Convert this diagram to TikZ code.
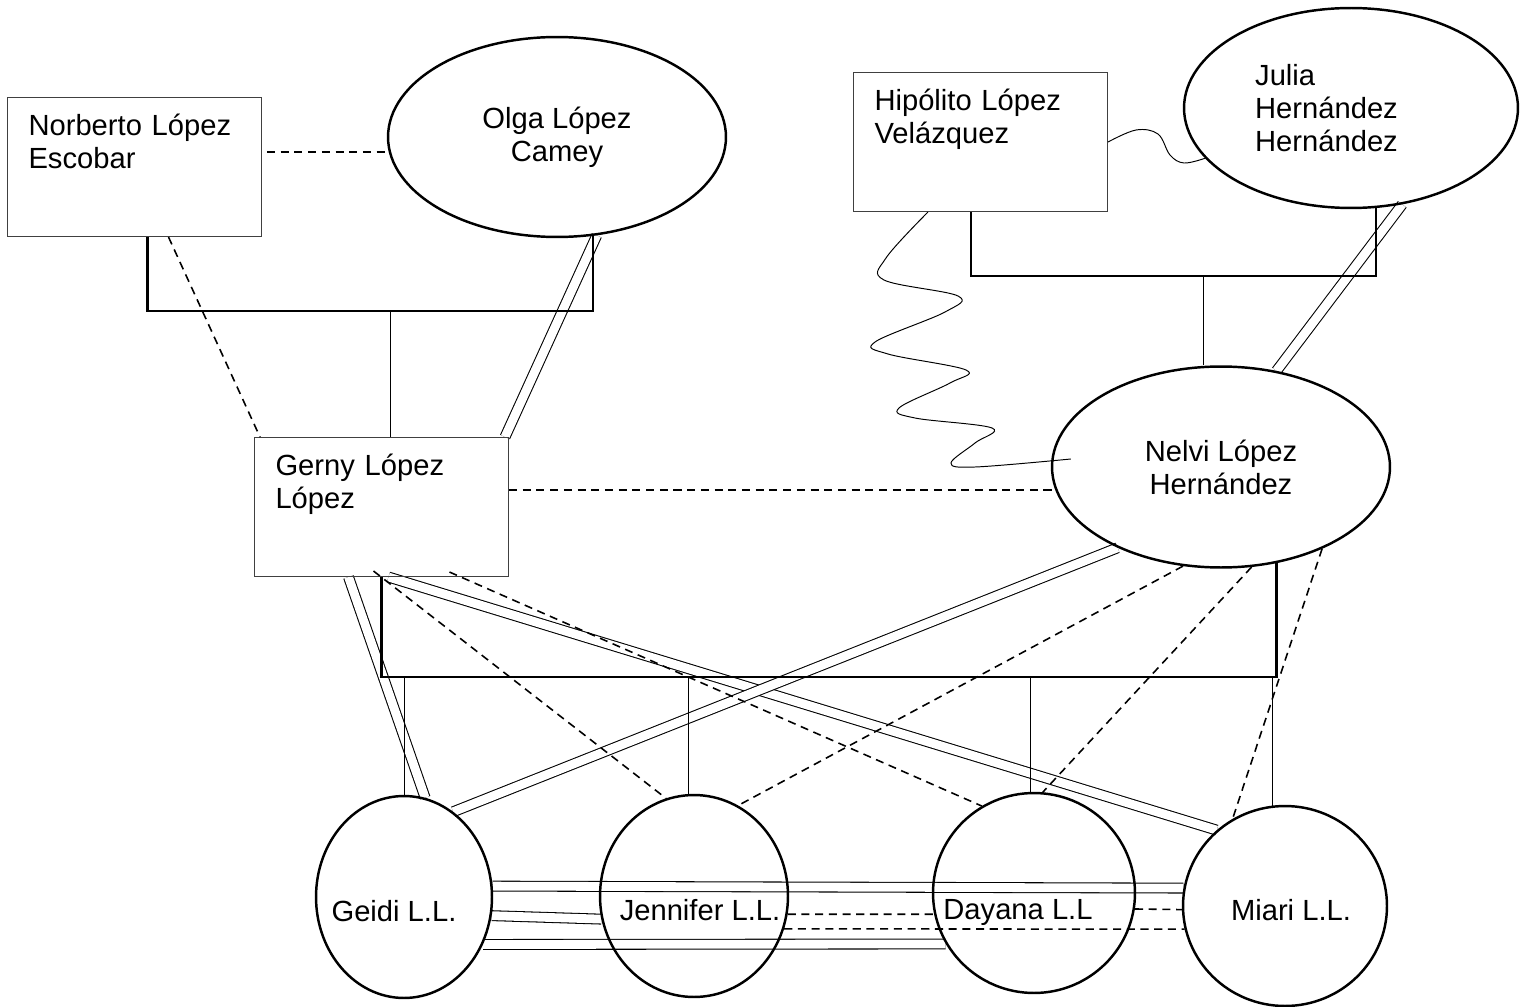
\documentclass[tikz,border=0pt]{standalone}
\usepackage{fontspec}
\setmainfont{Liberation Sans}
\usetikzlibrary{shapes.geometric, positioning, calc}
\pgfdeclarelayer{back}
\pgfsetlayers{back,main}

\begin{document}
\begin{tikzpicture}[x=0.02cm, y=-0.02cm,
    font=\fontsize{16.6pt}{18.7pt}\selectfont,
    person box/.style={draw=black!75, line width=0.6pt, rectangle, anchor=north west, align=left, text width=4.24cm, inner xsep=0.42cm, inner ysep=0pt, text height=0.76cm, text depth=2.02cm},
    big oval/.style={draw, ellipse, line width=1.4pt, inner sep=0pt, minimum width=6.76cm, minimum height=4cm, align=center},
    kid oval/.style={draw, ellipse, line width=1.4pt, inner sep=0pt},
    tie/.style={line width=0.55pt},
    union/.style={line width=1.2pt},
    dashlink/.style={line width=0.9pt, dash pattern=on 4.6pt off 3.2pt},
    twinlink/.style={line width=0.6pt, double=white, double distance=5pt}]
    \useasboundingbox (0,0) rectangle (1532,1007);

    \node[person box] (norberto) at (7,97) {Norberto López\\Escobar};
    \node[big oval] (olga) at (557,137) {Olga López\\Camey};
    \node[person box] (hipolito) at (853,72) {Hipólito López\\Velázquez};
    \node[big oval, minimum width=6.68cm, label={[align=left, xshift=-0.49cm]center:{Julia\\Hernández\\Hernández}}] (julia) at (1351,108) {};
    \node[person box] (gerny) at (254,437) {Gerny López\\López};
    \node[big oval, minimum height=4.02cm] (nelvi) at (1221,467) {Nelvi López\\Hernández};
    \node[kid oval, minimum width=3.52cm, minimum height=4.04cm, label={[text depth=0pt, xshift=-0.2cm, yshift=-0.27cm]center:Geidi L.L.}] (geidi) at (404,897) {};
    \node[kid oval, minimum width=3.76cm, minimum height=4.04cm, label={[text depth=0pt, xshift=0.12cm, yshift=-0.27cm]center:Jennifer L.L.}] (jennifer) at (694,896) {};
    \node[kid oval, minimum width=4.04cm, minimum height=4cm, label={[text depth=0pt, xshift=-0.32cm, yshift=-0.33cm]center:Dayana L.L}] (dayana) at (1034,893) {};
    \node[kid oval, minimum width=4.08cm, minimum height=4cm, label={[text depth=0pt, xshift=0.12cm, yshift=-0.07cm]center:Miari L.L.}] (miari) at (1285,906) {};

    \coordinate (topbar) at (390,311);
    \coordinate (rightbar) at (1203,276);
    \coordinate (lowbar) at (830,677);
    \coordinate (wavetop) at ([xshift=1.5cm]hipolito.south west);
    \coordinate (waveend) at ([shift={(0.4cm,0.16cm)}]nelvi.west);

    \draw[dashlink, shorten <=0.1cm] (norberto.east |- olga.185) -- (olga.185);
    \draw[union] ([xshift=0.26cm]norberto.south) |- (topbar) -| (olga.290);
    \draw[tie] (topbar) -- (topbar |- gerny.north);
    \draw[dashlink] ([xshift=0.68cm]norberto.south) -- ([xshift=0.12cm]gerny.north west);

    \draw[tie] plot[smooth, tension=0.6] coordinates {(hipolito.east) (1136,130) (1158,134) (1170,155) (1184,163) (julia.199)};
    \draw[union] ([xshift=-0.19cm]hipolito.south) |- (rightbar) -| (julia.284);
    \draw[tie] (rightbar) -- (rightbar |- nelvi.north);
    \draw[tie] plot[smooth, tension=0.6] coordinates {(wavetop) (886,258) (884,280) (958,296) (945,312) (875,342) (888,354) (966,370) (950,383) (899,408) (915,418) (992,428) (975,443) (951,463) (975,467) (waveend)};

    \draw[dashlink] (gerny.east |- nelvi.188) -- (nelvi.188);
    \draw[union] (gerny.south) |- (lowbar) -| (nelvi.300);
    \draw[tie] (lowbar -| geidi.north) -- (geidi.north);
    \draw[tie] (lowbar -| jennifer.93) -- (jennifer.93);
    \draw[tie] (lowbar -| dayana.92) -- (dayana.92);
    \draw[tie] (lowbar -| miari.97) -- (miari.97);

    \draw[dashlink] ([shift={(-0.16cm,0.12cm)}]gerny.south) -- (jennifer.106);
    \draw[dashlink] ([shift={(1.36cm,0.1cm)}]gerny.south) -- (dayana.121);
    \draw[dashlink] (nelvi.249) -- (jennifer.64);
    \draw[dashlink] (nelvi.287) -- (dayana.85);
    \draw[dashlink] (nelvi.321) -- (miari.121);
    \draw[dashlink] (jennifer.349) -- (dayana.192);
    \draw[dashlink] (jennifer.340) -- (miari.193);
    \draw[dashlink] (dayana.351) -- (miari.182);

    \begin{pgfonlayer}{back}
        \draw[twinlink] (olga.292) -- ([xshift=-0.08cm]gerny.north east);
        \draw[twinlink] (julia.298) -- (nelvi.60);
        \draw[twinlink] ([xshift=-0.66cm]gerny.south) -- (geidi.78);
        \draw[twinlink] ([xshift=0.14cm]gerny.south) -- (miari.132);
        \draw[twinlink] (nelvi.218) -- (geidi.60);
        \draw[twinlink] (geidi.7) -- (miari.170);
        \draw[twinlink] (geidi.348) -- (jennifer.194);
        \draw[twinlink] (geidi.329) -- (dayana.210);
    \end{pgfonlayer}
\end{tikzpicture}
\end{document}
